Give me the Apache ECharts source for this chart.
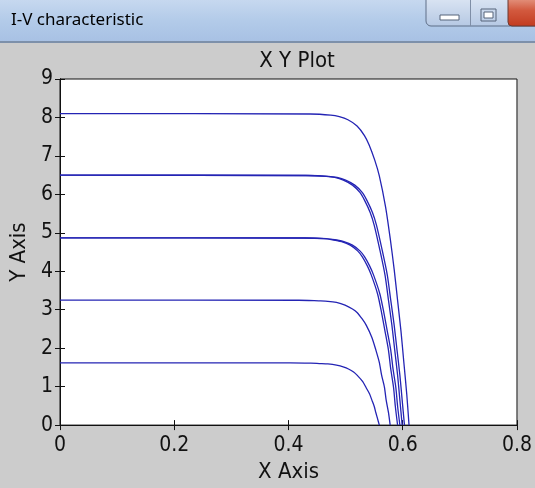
<!DOCTYPE html>
<html>
<head>
<meta charset="utf-8">
<script src="https://cdn.jsdelivr.net/npm/echarts@6/dist/echarts.min.js"></script>
<style>
html, body { margin: 0; padding: 0; background: #cccccc; }
#chart { width: 535px; height: 488px; }
</style>
</head>
<body>
<div id="chart"></div>
<script>
const windowTitle = 'I-V characteristic'
const plotTitle = 'X Y Plot'
const xTicks = [0, 0.2, 0.4, 0.6, 0.8]
const yTicks = [0, 1, 2, 3, 4, 5, 6, 7, 8, 9]

// [voltage, current], one list per curve
const curve8 = [[0, 8.10], [0.438, 8.09], [0.474, 8.06], [0.489, 8.02], [0.504, 7.94], [0.520, 7.78], [0.533, 7.53], [0.541, 7.29], [0.551, 6.89], [0.559, 6.48], [0.570, 5.67], [0.578, 4.86], [0.585, 4.05], [0.591, 3.24], [0.597, 2.43], [0.602, 1.62], [0.607, 0.81], [0.611, 0]]
const curve65a = [[0, 6.50], [0.434, 6.49], [0.470, 6.47], [0.485, 6.44], [0.500, 6.37], [0.516, 6.24], [0.529, 6.05], [0.537, 5.85], [0.547, 5.53], [0.554, 5.20], [0.564, 4.55], [0.573, 3.90], [0.579, 3.25], [0.585, 2.60], [0.590, 1.95], [0.595, 1.30], [0.599, 0.65], [0.603, 0]]
const curve65b = [[0, 6.50], [0.430, 6.49], [0.466, 6.47], [0.481, 6.44], [0.496, 6.37], [0.512, 6.24], [0.525, 6.05], [0.533, 5.85], [0.543, 5.53], [0.550, 5.20], [0.560, 4.55], [0.569, 3.90], [0.575, 3.25], [0.581, 2.60], [0.586, 1.95], [0.591, 1.30], [0.595, 0.65], [0.599, 0]]
const curve49a = [[0, 4.87], [0.431, 4.865], [0.466, 4.85], [0.481, 4.82], [0.497, 4.77], [0.512, 4.68], [0.525, 4.53], [0.533, 4.38], [0.542, 4.14], [0.549, 3.90], [0.560, 3.41], [0.567, 2.92], [0.573, 2.44], [0.579, 1.95], [0.583, 1.46], [0.588, 0.97], [0.591, 0.49], [0.595, 0]]
const curve49b = [[0, 4.87], [0.427, 4.865], [0.462, 4.85], [0.477, 4.82], [0.493, 4.77], [0.508, 4.68], [0.521, 4.53], [0.529, 4.38], [0.538, 4.14], [0.545, 3.90], [0.556, 3.41], [0.563, 2.92], [0.569, 2.44], [0.575, 1.95], [0.579, 1.46], [0.584, 0.97], [0.587, 0.49], [0.591, 0]]
const curve33 = [[0, 3.25], [0.418, 3.247], [0.453, 3.23], [0.469, 3.22], [0.484, 3.19], [0.499, 3.12], [0.512, 3.02], [0.520, 2.93], [0.529, 2.76], [0.536, 2.60], [0.546, 2.28], [0.553, 1.95], [0.559, 1.63], [0.563, 1.30], [0.568, 0.98], [0.571, 0.65], [0.575, 0.33], [0.578, 0]]
const curve16 = [[0, 1.62], [0.403, 1.618], [0.439, 1.61], [0.454, 1.60], [0.469, 1.59], [0.484, 1.56], [0.497, 1.51], [0.505, 1.46], [0.514, 1.38], [0.520, 1.30], [0.530, 1.13], [0.536, 0.97], [0.542, 0.81], [0.546, 0.65], [0.550, 0.49], [0.553, 0.32], [0.556, 0.16], [0.559, 0]]

const curves = [curve8, curve65a, curve65b, curve49a, curve49b, curve33, curve16]

const font = "'Liberation Sans Narrow', 'DejaVu Sans Condensed', 'Liberation Sans', Arial, sans-serif"
const black = '#111'

const chart = echarts.init(document.getElementById('chart'))

const tickAxis = (extra) => Object.assign({
    type: 'value',
    axisLine: { show: true, lineStyle: { color: black, width: 1 } },
    axisTick: { show: true, inside: true, length: 5, lineStyle: { color: black } },
    splitLine: { show: false },
}, extra)

chart.setOption({
    animation: false,
    backgroundColor: '#cccccc',
    title: {
        text: plotTitle,
        left: 292,
        textAlign: 'center',
        top: 45,
        textStyle: { fontFamily: font, fontSize: 22, fontWeight: 'normal', color: black }
    },
    grid: {
        left: 60, right: 11, top: 79, bottom: 50,
        show: true, backgroundColor: '#ffffff', borderColor: black, borderWidth: 1
    },
    xAxis: [
        tickAxis({
            min: xTicks[0], max: xTicks[xTicks.length - 1], interval: xTicks[1] - xTicks[0],
            name: 'X Axis', nameLocation: 'middle', nameGap: 33,
            nameTextStyle: { fontFamily: font, fontSize: 22, color: black },
            axisLabel: { fontFamily: font, fontSize: 21, color: black, margin: 10 }
        }),
        tickAxis({
            position: 'top',
            min: xTicks[0], max: xTicks[xTicks.length - 1], interval: xTicks[1] - xTicks[0],
            axisLabel: { show: false }
        })
    ],
    yAxis: [
        tickAxis({
            min: yTicks[0], max: yTicks[yTicks.length - 1], interval: 1,
            name: 'Y Axis', nameLocation: 'middle', nameGap: 30,
            nameTextStyle: { fontFamily: font, fontSize: 22, color: black },
            axisLabel: { fontFamily: font, fontSize: 21, color: black, margin: 7 }
        }),
        tickAxis({
            position: 'right',
            min: yTicks[0], max: yTicks[yTicks.length - 1], interval: 1,
            axisLabel: { show: false }
        })
    ],
    graphic: [
        {
            type: 'rect', left: 0, top: 0, silent: true,
            shape: { width: 535, height: 41 },
            style: {
                fill: new echarts.graphic.LinearGradient(0, 0, 0, 1, [
                    { offset: 0, color: '#c6d8ef' },
                    { offset: 0.5, color: '#b3cbe9' },
                    { offset: 1, color: '#a8c1e4' }
                ])
            }
        },
        { type: 'rect', left: 0, top: 41, silent: true, shape: { width: 535, height: 2 }, style: { fill: '#7d90aa' } },
        {
            type: 'text', left: 11, top: 12, silent: true,
            style: { text: windowTitle, font: "17px 'Noto Sans', 'DejaVu Sans', sans-serif", fill: '#000' }
        },
        {
            type: 'rect', silent: true,
            shape: { x: 426, y: -5, width: 115, height: 31, r: 5 },
            style: {
                fill: new echarts.graphic.LinearGradient(0, 0, 0, 1, [
                    { offset: 0, color: '#dfe8f5' },
                    { offset: 1, color: '#b5c8e3' }
                ]),
                stroke: '#5f6f88', lineWidth: 1
            }
        },
        { type: 'rect', silent: true, shape: { x: 470, y: 0, width: 1, height: 26 }, style: { fill: '#7f8ea6' } },
        {
            type: 'rect', silent: true,
            shape: { x: 508, y: -5, width: 32, height: 31, r: [0, 0, 0, 4] },
            style: {
                fill: new echarts.graphic.LinearGradient(0, 0, 0, 1, [
                    { offset: 0, color: '#e9a794' },
                    { offset: 0.5, color: '#d2593e' },
                    { offset: 1, color: '#c23b20' }
                ]),
                stroke: '#6a3a33', lineWidth: 1
            }
        },
        { type: 'rect', silent: true, shape: { x: 440, y: 15, width: 19, height: 5 }, style: { fill: '#ffffff', stroke: '#56647a', lineWidth: 1 } },
        { type: 'rect', silent: true, shape: { x: 481, y: 9, width: 15, height: 12 }, style: { fill: 'none', stroke: '#56647a', lineWidth: 1 } },
        { type: 'rect', silent: true, shape: { x: 484, y: 12, width: 9, height: 6 }, style: { fill: '#ffffff', stroke: '#56647a', lineWidth: 1 } }
    ],
    series: curves.map(function (pts) {
        return {
            type: 'line',
            data: pts,
            showSymbol: false,
            smooth: 0.25,
            silent: true,
            lineStyle: { color: '#2424b4', width: 1.3 }
        }
    })
})
</script>
</body>
</html>
